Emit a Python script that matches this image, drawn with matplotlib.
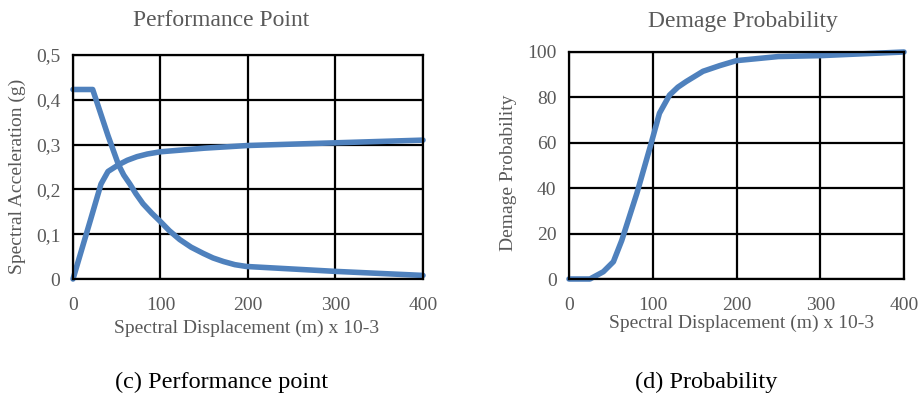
import matplotlib
matplotlib.use("Agg")
import matplotlib.pyplot as plt
from matplotlib import font_manager

# ---- data ----
cap_x = [0, 10, 20, 32, 40, 52, 62, 73, 85, 100, 150, 200, 300, 400]
cap_y = [0.0, 0.066, 0.132, 0.212, 0.240, 0.255, 0.265, 0.273, 0.279, 0.284, 0.292, 0.298, 0.304, 0.310]
dem_x = [0, 22.5, 40, 52, 58, 65, 72, 80, 90, 100, 110, 122, 135, 149, 160, 172, 185, 198, 300, 400]
dem_y = [0.423, 0.423, 0.32, 0.255, 0.232, 0.212, 0.19, 0.168, 0.147, 0.128, 0.108, 0.088, 0.071, 0.057,
         0.047, 0.039, 0.032, 0.028, 0.017, 0.008]
prob_x = [0, 25, 41, 53, 63, 81, 97, 108, 120, 130, 140, 160, 180, 200, 250, 300, 400]
prob_y = [0, 0, 3.2, 7.6, 17, 37.7, 58.3, 73, 81, 84.5, 87, 91.5, 94, 96.2, 98, 98.4, 100]

xticks = [0, 100, 200, 300, 400]
left_yticks = [0, 0.1, 0.2, 0.3, 0.4, 0.5]
left_ylabels = ["0", "0,1", "0,2", "0,3", "0,4", "0,5"]
right_yticks = [0, 20, 40, 60, 80, 100]

line_color = "#4F81BD"
text_color = "#595959"

avail = {f.name for f in font_manager.fontManager.ttflist}
serif = "Liberation Serif" if "Liberation Serif" in avail else "DejaVu Serif"

W, H = 920, 395
fig = plt.figure(figsize=(W / 100, H / 100), dpi=100)

def box(x0, y0, x1, y1):
    return [x0 / W, 1 - y1 / H, (x1 - x0) / W, (y1 - y0) / H]

axL = fig.add_axes(box(73, 55, 423, 279))
axR = fig.add_axes(box(569, 52, 904, 279))

for ax in (axL, axR):
    ax.set_xlim(0, 400)
    ax.set_xticks(xticks)
    ax.grid(True, color="black", linewidth=1.6)
    for s in ax.spines.values():
        s.set_color("black")
        s.set_linewidth(1.6)
    ax.tick_params(length=0, labelsize=14, labelcolor=text_color)
    ax.tick_params(axis="x", pad=13)
    ax.tick_params(axis="y", pad=9)
    ax.set_axisbelow(True)

axL.set_ylim(0, 0.5)
axL.set_yticks(left_yticks)
axL.set_yticklabels(left_ylabels)
axL.plot(cap_x, cap_y, color=line_color, linewidth=4, solid_capstyle="round", solid_joinstyle="round", clip_on=False)
axL.plot(dem_x, dem_y, color=line_color, linewidth=4, solid_capstyle="round", solid_joinstyle="round", clip_on=False)

axR.set_ylim(0, 100)
axR.set_yticks(right_yticks)
axR.plot(prob_x, prob_y, color=line_color, linewidth=4, solid_capstyle="round", solid_joinstyle="round", clip_on=False)
for ax in (axL, axR):
    for lab in ax.get_xticklabels() + ax.get_yticklabels():
        lab.set_fontfamily(serif)

def ft(x, y, s, **kw):
    fig.text(x / W, 1 - y / H, s, ha="center", va="center", **kw)

ft(221, 21, "Performance Point", fontsize=17, color=text_color, fontfamily=serif)
ft(743, 21, "Demage Probability", fontsize=17, color=text_color, fontfamily=serif)
ft(247, 328, "Spectral Displacement (m) x 10-3", fontsize=14, color=text_color, fontfamily=serif)
ft(742, 323, "Spectral Displacement (m) x 10-3", fontsize=14, color=text_color, fontfamily=serif)
ft(17, 176, "Spectral Acceleration (g)", fontsize=14, color=text_color, fontfamily=serif, rotation=90)
ft(509, 173, "Demage Probability", fontsize=14, color=text_color, fontfamily=serif, rotation=90)
ft(222, 382, "(c) Performance point", fontsize=17.5, color="black", fontfamily=serif)
ft(706, 382, "(d) Probability", fontsize=17.5, color="black", fontfamily=serif)

fig.savefig("out.png", dpi=100)
